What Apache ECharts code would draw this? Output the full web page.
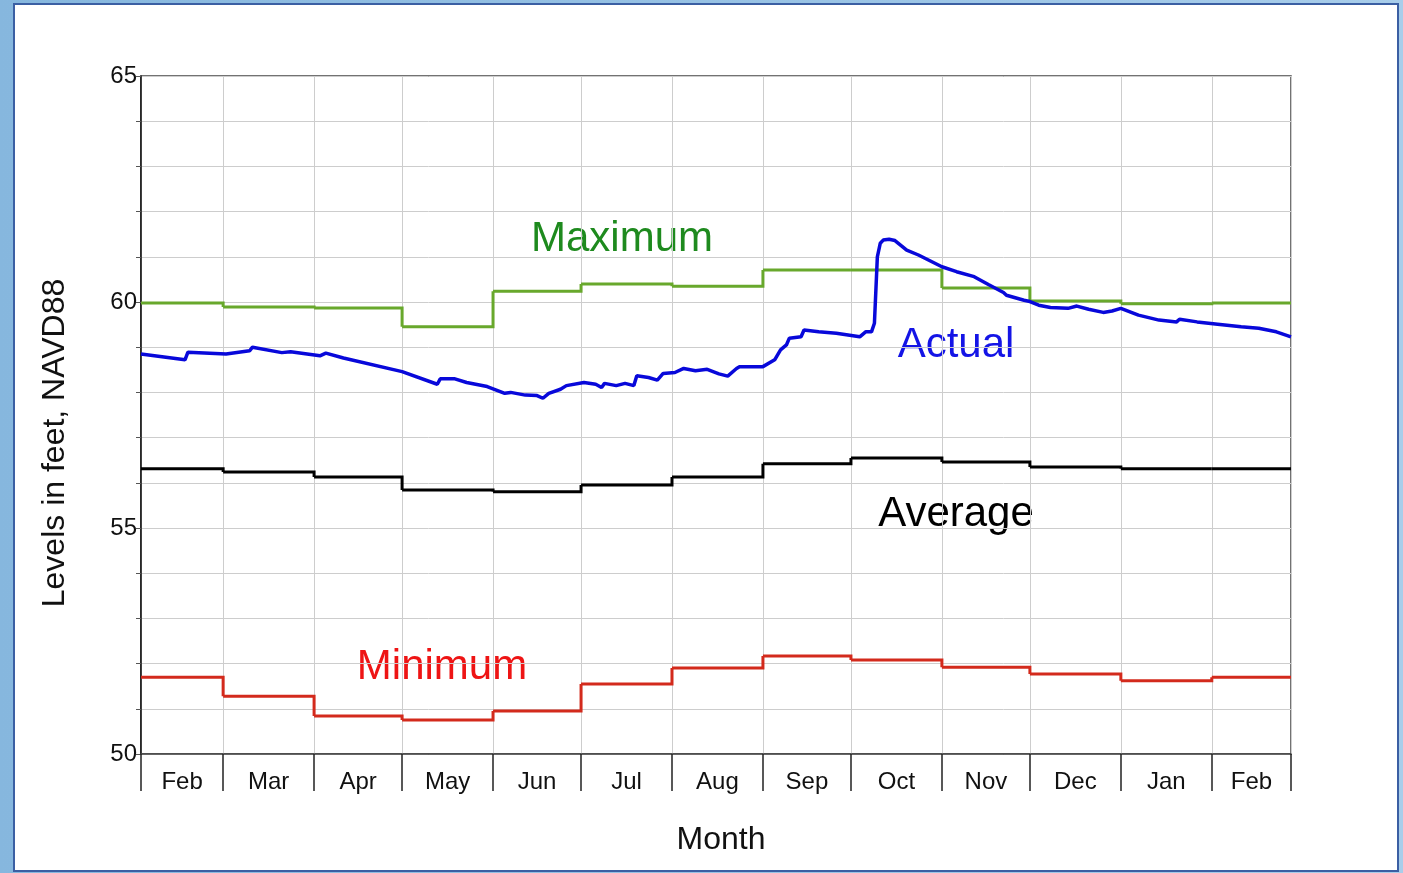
<!DOCTYPE html>
<html>
<head>
<meta charset="utf-8">
<title>Water levels</title>
<script src="https://cdn.jsdelivr.net/npm/echarts@6/dist/echarts.min.js"></script>
<style>
  html, body { margin: 0; padding: 0; width: 1403px; height: 873px; overflow: hidden; }
  body { background: linear-gradient(90deg, #86b7de 0%, #a8cdea 100%); position: relative; }
  .panel {
    position: absolute; left: 13px; top: 3px; width: 1382px; height: 865px;
    background: #fff; border: 2px solid #3b5fa3;
  }
  #chart { position: absolute; left: 0; top: 0; width: 1403px; height: 873px; }
</style>
</head>
<body>
<div class="panel"></div>
<div id="chart"></div>
<script>
const months = ['Feb', 'Mar', 'Apr', 'May', 'Jun', 'Jul', 'Aug', 'Sep', 'Oct', 'Nov', 'Dec', 'Jan', 'Feb']
const monthStarts = ['2021-02-01', '2021-03-01', '2021-04-01', '2021-05-01', '2021-06-01', '2021-07-01',
  '2021-08-01', '2021-09-01', '2021-10-01', '2021-11-01', '2021-12-01', '2022-01-01', '2022-02-01']
const axisEnd = '2022-02-28'

// monthly statistics, feet
const maximum = [59.98, 59.89, 59.87, 59.45, 60.24, 60.40, 60.35, 60.71, 60.71, 60.31, 60.02, 59.96, 59.98]
const average = [56.31, 56.24, 56.13, 55.84, 55.80, 55.95, 56.13, 56.42, 56.55, 56.46, 56.35, 56.31, 56.31]
const minimum = [51.70, 51.28, 50.84, 50.75, 50.95, 51.55, 51.90, 52.17, 52.08, 51.92, 51.77, 51.62, 51.70]

// measured level
const actualDates = ['2021-02-01', '2021-02-16', '2021-02-17', '2021-03-02', '2021-03-10', '2021-03-11',
  '2021-03-21', '2021-03-24', '2021-04-03', '2021-04-05', '2021-04-11', '2021-05-01', '2021-05-13',
  '2021-05-14', '2021-05-19', '2021-05-23', '2021-05-30', '2021-06-05', '2021-06-07', '2021-06-12',
  '2021-06-16', '2021-06-18', '2021-06-20', '2021-06-24', '2021-06-26', '2021-07-02', '2021-07-06',
  '2021-07-08', '2021-07-09', '2021-07-13', '2021-07-16', '2021-07-19', '2021-07-20', '2021-07-24',
  '2021-07-27', '2021-07-29', '2021-08-02', '2021-08-05', '2021-08-09', '2021-08-13', '2021-08-17',
  '2021-08-20', '2021-08-23', '2021-08-24', '2021-09-01', '2021-09-05', '2021-09-07', '2021-09-09',
  '2021-09-10', '2021-09-14', '2021-09-15', '2021-09-20', '2021-09-26', '2021-10-04', '2021-10-06',
  '2021-10-08', '2021-10-09', '2021-10-10', '2021-10-11', '2021-10-12', '2021-10-14', '2021-10-16',
  '2021-10-20', '2021-10-24', '2021-11-01', '2021-11-06', '2021-11-12', '2021-11-17', '2021-11-22',
  '2021-11-23', '2021-11-29', '2021-12-01', '2021-12-04', '2021-12-08', '2021-12-14', '2021-12-17',
  '2021-12-21', '2021-12-26', '2021-12-29', '2022-01-01', '2022-01-07', '2022-01-14', '2022-01-20',
  '2022-01-21', '2022-01-27', '2022-02-03', '2022-02-11', '2022-02-17', '2022-02-23', '2022-02-28']
const actualLevels = [58.85, 58.72, 58.89, 58.85, 58.92, 59.00,
  58.88, 58.90, 58.81, 58.87, 58.76, 58.46, 58.18,
  58.30, 58.30, 58.22, 58.13, 57.98, 58.00, 57.94,
  57.93, 57.87, 57.98, 58.07, 58.15, 58.22, 58.18,
  58.11, 58.20, 58.15, 58.20, 58.15, 58.37, 58.33,
  58.27, 58.42, 58.44, 58.53, 58.48, 58.51, 58.41,
  58.36, 58.53, 58.57, 58.57, 58.72, 58.94, 59.05,
  59.20, 59.23, 59.38, 59.34, 59.31, 59.23, 59.34,
  59.34, 59.53, 61.00, 61.30, 61.37, 61.39, 61.36,
  61.15, 61.04, 60.78, 60.67, 60.56, 60.38, 60.21,
  60.15, 60.04, 60.01, 59.93, 59.88, 59.86, 59.91,
  59.84, 59.77, 59.80, 59.86, 59.71, 59.60, 59.56,
  59.62, 59.56, 59.51, 59.45, 59.42, 59.34, 59.23]

const FONT = 'Liberation Sans, Arial, sans-serif'

function ts (s) {
  const p = s.split('-').map(Number)
  return new Date(p[0], p[1] - 1, p[2]).getTime()
}

const startTs = monthStarts.map(ts)
const endTs = ts(axisEnd)
const tickValues = startTs.concat([endTs])
const labelValues = startTs.map((t, i) => (t + tickValues[i + 1]) / 2)

// one horizontal piece per month, plus the riser into the next month
function stepSeries (name, vals, color) {
  return {
    name: name,
    type: 'custom',
    data: vals.map((v, i) => [startTs[i], tickValues[i + 1], v, i + 1 < vals.length ? vals[i + 1] : v]),
    encode: { x: [0, 1], y: [2, 3] },
    renderItem: (params, api) => {
      const a = api.coord([api.value(0), api.value(2)])
      const b = api.coord([api.value(1), api.value(2)])
      const c = api.coord([api.value(1), api.value(3)])
      return {
        type: 'polyline',
        shape: { points: [a, b, c] },
        style: { stroke: color, lineWidth: 3, fill: null, lineJoin: 'miter' }
      }
    }
  }
}

const chart = echarts.init(document.getElementById('chart'))
chart.setOption({
  animation: false,
  grid: {
    left: 141,
    top: 76,
    width: 1150,
    height: 678,
    show: true,
    borderColor: '#444',
    borderWidth: 1.5
  },
  xAxis: {
    type: 'value',
    min: startTs[0],
    max: endTs,
    axisLine: { lineStyle: { color: '#444', width: 1.5 } },
    axisTick: {
      show: true,
      customValues: tickValues,
      length: 37,
      lineStyle: { color: '#222', width: 1.5 }
    },
    axisLabel: {
      customValues: labelValues,
      margin: 16,
      fontFamily: FONT,
      fontSize: 24,
      color: '#111',
      formatter: v => {
        const i = labelValues.findIndex(x => Math.abs(x - v) < 86400000)
        return i >= 0 ? months[i] : ''
      }
    },
    splitLine: { show: true, lineStyle: { color: '#cdcdcd', width: 1 } }
  },
  yAxis: {
    type: 'value',
    min: 50,
    max: 65,
    interval: 1,
    axisLine: { show: true, lineStyle: { color: '#111', width: 1.5 } },
    axisTick: { show: true, length: 5, lineStyle: { color: '#555' } },
    axisLabel: {
      margin: 4,
      fontFamily: FONT,
      fontSize: 24,
      color: '#111',
      padding: [0, 0, 6, 0],
      formatter: v => (v % 5 === 0 ? String(v) : '')
    },
    splitLine: { show: true, lineStyle: { color: '#cdcdcd', width: 1 } }
  },
  series: [
    stepSeries('Minimum', minimum, '#d32a1c'),
    stepSeries('Average', average, '#000'),
    stepSeries('Maximum', maximum, '#68a82c'),
    {
      name: 'Actual',
      type: 'line',
      symbol: 'none',
      data: actualDates.map((d, i) => [ts(d), actualLevels[i]]),
      lineStyle: { color: '#0808da', width: 3.5 }
    }
  ],
  graphic: [
    { type: 'text', x: 55, y: 443, rotation: Math.PI / 2, style: { text: 'Levels in feet, NAVD88', fill: '#111', font: '32px ' + FONT, textAlign: 'center', textVerticalAlign: 'middle' } },
    { type: 'text', x: 721, y: 840, style: { text: 'Month', fill: '#111', font: '32px ' + FONT, textAlign: 'center', textVerticalAlign: 'middle' } },
    { type: 'text', x: 622, y: 239, style: { text: 'Maximum', fill: '#1e8a1e', font: '42px ' + FONT, textAlign: 'center', textVerticalAlign: 'middle' } },
    { type: 'text', x: 956, y: 345, style: { text: 'Actual', fill: '#1414e6', font: '42px ' + FONT, textAlign: 'center', textVerticalAlign: 'middle' } },
    { type: 'text', x: 956, y: 514, style: { text: 'Average', fill: '#000', font: '42px ' + FONT, textAlign: 'center', textVerticalAlign: 'middle' } },
    { type: 'text', x: 442, y: 667, style: { text: 'Minimum', fill: '#ee1414', font: '42px ' + FONT, textAlign: 'center', textVerticalAlign: 'middle' } }
  ]
})
</script>
</body>
</html>
